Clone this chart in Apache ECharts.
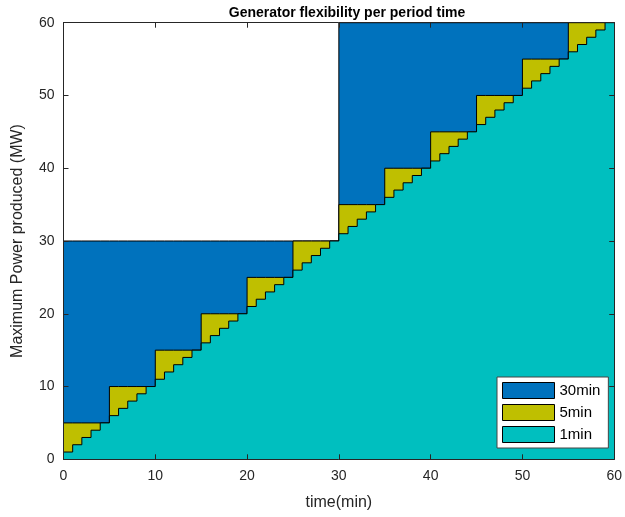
<!DOCTYPE html>
<html>
<head>
<meta charset="utf-8">
<script src="https://cdn.jsdelivr.net/npm/echarts@6/dist/echarts.min.js"></script>
<style>
  html, body { margin: 0; padding: 0; background: #fff; }
  #chart { width: 625px; height: 517px; }
</style>
</head>
<body>
<div id="chart"></div>
<script>
// Time steps (min); each value holds until the next step
const timeMin = [0,1,2,3,4,5,6,7,8,9,10,11,12,13,14,15,16,17,18,19,20,21,22,23,24,25,26,27,28,29,
                 30,31,32,33,34,35,36,37,38,39,40,41,42,43,44,45,46,47,48,49,50,51,52,53,54,55,56,57,58,59,60];

// Maximum power reachable (MW) for each ramp period
const power1min = [1,2,3,4,5,6,7,8,9,10,11,12,13,14,15,16,17,18,19,20,21,22,23,24,25,26,27,28,29,30,
                   31,32,33,34,35,36,37,38,39,40,41,42,43,44,45,46,47,48,49,50,51,52,53,54,55,56,57,58,59,60,60];
const power5min = [5,5,5,5,5,10,10,10,10,10,15,15,15,15,15,20,20,20,20,20,25,25,25,25,25,30,30,30,30,30,
                   35,35,35,35,35,40,40,40,40,40,45,45,45,45,45,50,50,50,50,50,55,55,55,55,55,60,60,60,60,60,60];
const power30min = [30,30,30,30,30,30,30,30,30,30,30,30,30,30,30,30,30,30,30,30,30,30,30,30,30,30,30,30,30,30,
                    60,60,60,60,60,60,60,60,60,60,60,60,60,60,60,60,60,60,60,60,60,60,60,60,60,60,60,60,60,60,60];

const seriesNames = ['30min', '5min', '1min'];
const seriesColors = ['#0072BD', '#BFBF00', '#00BFBF'];
const seriesValues = [power30min, power5min, power1min];

const xTicks = [0, 10, 20, 30, 40, 50, 60];
const yTicks = [0, 10, 20, 30, 40, 50, 60];

const FONT = '"Liberation Sans", Arial, sans-serif';
const INK = '#262626';

const chart = echarts.init(document.getElementById('chart'), null, { renderer: 'canvas' });

// Each layer fills down to the axis; later layers are painted over earlier ones
function makeSeries(i) {
  return {
    name: seriesNames[i],
    type: 'line',
    step: 'end',
    symbol: 'none',
    z: 1 + i,
    data: timeMin.map((t, k) => [t, seriesValues[i][k]]),
    itemStyle: { color: seriesColors[i] },
    lineStyle: { color: '#000', width: 1 },
    areaStyle: { color: seriesColors[i], opacity: 1, origin: 'start' },
    animation: false
  };
}

const axisCommon = {
  type: 'value',
  min: 0,
  max: 60,
  interval: 10,
  z: 8,
  axisLine: { show: true, onZero: false, lineStyle: { color: INK, width: 1 } },
  axisTick: { show: true, inside: true, length: 5, lineStyle: { color: INK } },
  splitLine: { show: false }
};

const option = {
  backgroundColor: '#fff',
  animation: false,
  title: {
    text: 'Generator flexibility per period time',
    left: 342,
    top: 1,
    textAlign: 'center',
    textStyle: { fontFamily: FONT, fontSize: 14, fontWeight: 'bold', color: '#000' }
  },
  grid: { left: 63.5, top: 22.7, right: 5, bottom: 57.7, containLabel: false },
  legend: {
    z: 20,
    orient: 'vertical',
    left: 497,
    top: 377,
    padding: [5, 8, 5, 5],
    itemWidth: 52,
    itemHeight: 16,
    itemGap: 5,
    icon: 'rect',
    backgroundColor: '#fff',
    borderColor: '#444',
    borderWidth: 1,
    textStyle: { fontFamily: FONT, fontSize: 15, color: '#000' },
    data: seriesNames.map((n, i) => ({
      name: n,
      itemStyle: { color: seriesColors[i], borderColor: '#000', borderWidth: 1 }
    }))
  },
  xAxis: [
    Object.assign({}, axisCommon, {
      position: 'bottom',
      name: 'time(min)',
      nameLocation: 'middle',
      nameGap: 35,
      nameTextStyle: { fontFamily: FONT, fontSize: 16, color: INK },
      axisLabel: {
        margin: 10, fontFamily: FONT, fontSize: 14, color: INK,
        formatter: v => (xTicks.indexOf(v) >= 0 ? String(v) : '')
      }
    }),
    Object.assign({}, axisCommon, { position: 'top', axisLabel: { show: false } })
  ],
  yAxis: [
    Object.assign({}, axisCommon, {
      position: 'left',
      name: 'Maximum Power produced (MW)',
      nameLocation: 'middle',
      nameGap: 38,
      nameTextStyle: { fontFamily: FONT, fontSize: 16, color: INK },
      axisLabel: {
        margin: 9, fontFamily: FONT, fontSize: 14, color: INK,
        formatter: v => (yTicks.indexOf(v) >= 0 ? String(v) : '')
      }
    }),
    Object.assign({}, axisCommon, { position: 'right', axisLabel: { show: false } })
  ],
  series: [0, 1, 2].map(makeSeries)
};

chart.setOption(option);
</script>
</body>
</html>
